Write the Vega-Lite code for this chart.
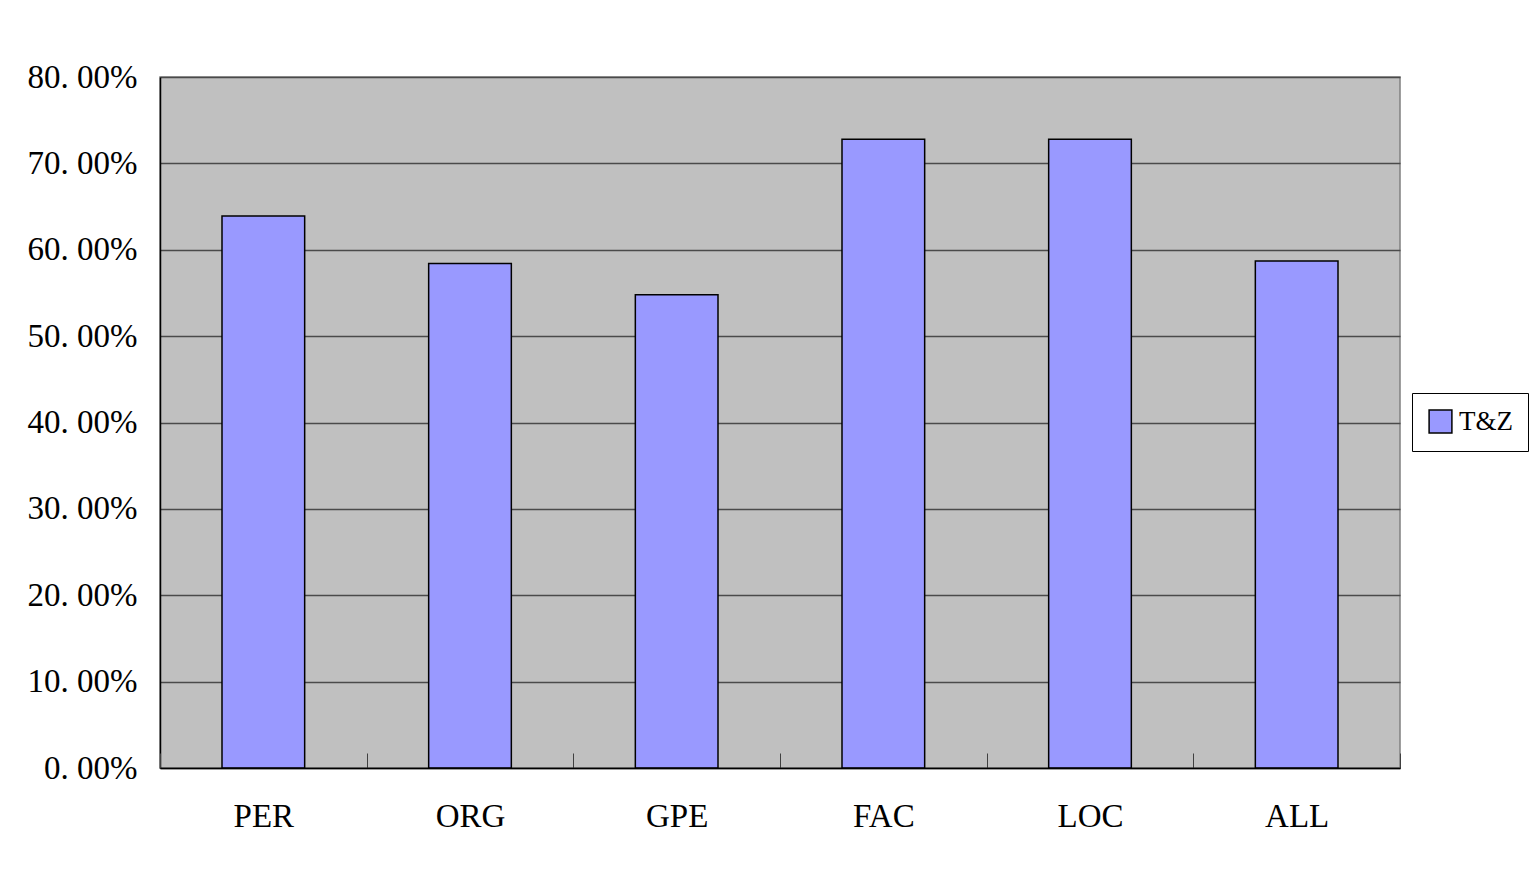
{
  "$schema": "https://vega.github.io/schema/vega-lite/v6.json",
  "autosize": "none",
  "width": 1240,
  "height": 691,
  "padding": {"left": 160, "top": 77, "right": 131, "bottom": 109},
  "background": "white",
  "data": {
    "values": [
      {"type": "PER", "rate": 0.639, "series": "T&Z"},
      {"type": "ORG", "rate": 0.584, "series": "T&Z"},
      {"type": "GPE", "rate": 0.548, "series": "T&Z"},
      {"type": "FAC", "rate": 0.728, "series": "T&Z"},
      {"type": "LOC", "rate": 0.728, "series": "T&Z"},
      {"type": "ALL", "rate": 0.587, "series": "T&Z"}
    ]
  },
  "mark": {"type": "bar", "stroke": "black", "strokeWidth": 1.5, "width": {"band": 0.4}},
  "encoding": {
    "x": {
      "field": "type",
      "type": "nominal",
      "sort": null,
      "scale": {"paddingInner": 0, "paddingOuter": 0},
      "axis": {
        "title": null,
        "labelAngle": 0,
        "labelFont": "Liberation Serif",
        "labelFontSize": 33,
        "labelColor": "black",
        "labelPadding": 47,
        "labelBaseline": "top",
        "tickBand": "extent",
        "tickSize": -15,
        "tickColor": "#404040",
        "tickWidth": 1,
        "domainColor": "black",
        "domainWidth": 1.5,
        "zindex": 1
      }
    },
    "y": {
      "field": "rate",
      "type": "quantitative",
      "scale": {"domain": [0, 0.8]},
      "axis": {
        "title": null,
        "values": [0, 0.1, 0.2, 0.3, 0.4, 0.5, 0.6, 0.7, 0.8],
        "labelExpr": "replace(format(datum.value, '.2%'), '.', '. ')",
        "labelFont": "Liberation Serif",
        "labelFontSize": 33,
        "labelColor": "black",
        "labelPadding": 23,
        "ticks": false,
        "domainColor": "black",
        "domainWidth": 1.5,
        "grid": true,
        "gridColor": "#4a4a4a",
        "gridWidth": 1.5
      }
    },
    "color": {
      "field": "series",
      "type": "nominal",
      "scale": {"range": ["#9999FF"]},
      "legend": {
        "title": null,
        "orient": "none",
        "legendX": 1252,
        "legendY": 316,
        "strokeColor": "black",
        "fillColor": "white",
        "padding": 15,
        "symbolType": "square",
        "symbolSize": 520,
        "symbolStrokeColor": "black",
        "symbolStrokeWidth": 1.5,
        "symbolOpacity": 1,
        "labelFont": "Liberation Serif",
        "labelFontSize": 27,
        "labelColor": "black",
        "labelOffset": 5
      }
    }
  },
  "config": {
    "view": {"fill": "#C0C0C0", "stroke": "#808080", "strokeWidth": 1.5}
  }
}
